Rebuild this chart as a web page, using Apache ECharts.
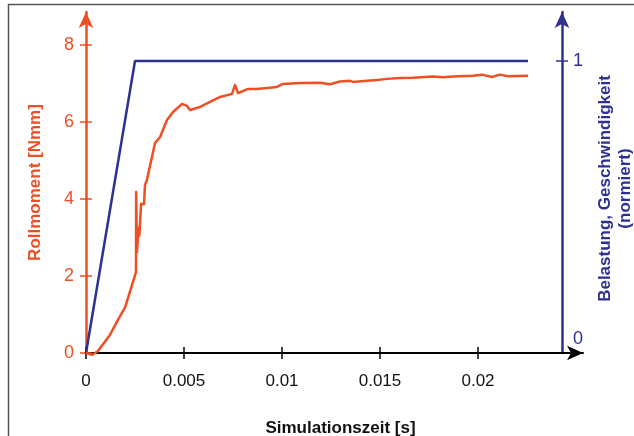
<!DOCTYPE html>
<html>
<head>
    <meta charset="utf-8">
    <title>Rollmoment</title>
    <script src="https://cdn.jsdelivr.net/npm/echarts@6/dist/echarts.min.js"></script>
    <style>
        html, body { margin: 0; padding: 0; background: #fff; }
        #main { width: 634px; height: 436px; }
    </style>
</head>
<body>
    <div id="main"></div>
    <script type="text/javascript">
        // Zeitachse / Ticks
        var xTicks = [0, 0.005, 0.01, 0.015, 0.02];
        var leftTicks = [0, 2, 4, 6, 8];
        var rightTicks = [0, 1];

        // Rollmoment [Nmm] ueber Simulationszeit [s]
        var rollTime = [0, 0.00031, 0.00061, 0.00122, 0.00163, 0.002, 0.00255, 0.00256, 0.0026, 0.00268, 0.00272,
            0.00281, 0.00296, 0.00301, 0.00311, 0.00352, 0.00378, 0.00413, 0.00444, 0.0049, 0.00515, 0.0053,
            0.00582, 0.00684, 0.00745, 0.0076, 0.00776, 0.00827, 0.00872, 0.00974, 0.01005, 0.01092, 0.01194,
            0.01245, 0.01296, 0.01347, 0.01362, 0.01434, 0.01485, 0.01536, 0.01602, 0.01668, 0.0177, 0.01821,
            0.01872, 0.01974, 0.0202, 0.02071, 0.02112, 0.02153, 0.02255];
        var rollValue = [0, -0.05, 0.05, 0.47, 0.86, 1.19, 2.1, 4.18, 2.62, 3.25, 3.05,
            3.87, 3.87, 4.36, 4.5, 5.45, 5.61, 6.05, 6.26, 6.47, 6.42, 6.31,
            6.39, 6.65, 6.73, 6.96, 6.75, 6.86, 6.86, 6.91, 6.99, 7.01, 7.02,
            6.98, 7.05, 7.07, 7.04, 7.07, 7.09, 7.12, 7.14, 7.15, 7.18, 7.16,
            7.18, 7.2, 7.23, 7.17, 7.23, 7.19, 7.2];

        // Belastung / Geschwindigkeit (normiert)
        var loadTime = [0, 0.0025, 0.02255];
        var loadValue = [0, 1, 1];

        var red = '#f04e23';
        var blue = '#2e3192';
        var font = 'Liberation Sans, Arial, sans-serif';

        function pairs(xs, ys) {
            return xs.map(function (x, i) { return [x, ys[i]]; });
        }

        var myChart = echarts.init(document.getElementById('main'));

        // grid 0: Zeitachse bis zur Pfeilspitze, grid 1: endet an der rechten Achse
        var xMax0 = 0.025357;
        var xMax1 = 0.024286;
        var yMaxL = 8.857;
        var yMaxR = 1.168;

        var option = {
            animation: false,
            backgroundColor: '#fff',
            grid: [
                { left: 86, right: 51, top: 12, bottom: 83, outerBoundsMode: 'none' },
                { left: 86, right: 72, top: 12, bottom: 83, outerBoundsMode: 'none' }
            ],
            graphic: [{
                type: 'rect',
                shape: { x: 8.5, y: 4.5, width: 800, height: 600 },
                style: { fill: 'none', stroke: '#555', lineWidth: 1.5 },
                silent: true
            }],
            xAxis: [{
                type: 'value',
                gridIndex: 0,
                position: 'bottom',
                min: 0,
                max: xMax0,
                splitLine: { show: false },
                axisLine: {
                    onZero: false,
                    lineStyle: { color: '#000', width: 2 },
                    symbol: ['none', 'arrow'],
                    symbolSize: [11, 16]
                },
                axisTick: { customValues: xTicks, length: 6, lineStyle: { color: '#000', width: 1.5 } },
                axisLabel: {
                    customValues: xTicks, margin: 20, color: '#111', fontSize: 17, fontFamily: font,
                    formatter: function (v) { return String(v); }
                },
                name: 'Simulationszeit [s]',
                nameLocation: 'middle',
                nameGap: 67,
                nameTextStyle: { color: '#111', fontSize: 17, fontWeight: 'bold', fontFamily: font, padding: [0, 0, 0, 12] }
            }, {
                type: 'value',
                gridIndex: 0,
                position: 'bottom',
                min: 0,
                max: xMax0,
                splitLine: { show: false },
                axisLine: { show: false, onZero: false },
                axisTick: { customValues: xTicks, inside: true, length: 6, lineStyle: { color: '#000', width: 1.5 } },
                axisLabel: { show: false }
            }, {
                type: 'value',
                gridIndex: 1,
                position: 'bottom',
                min: 0,
                max: xMax1,
                show: false
            }],
            yAxis: [{
                type: 'value',
                gridIndex: 0,
                position: 'left',
                min: 0,
                max: yMaxL,
                splitLine: { show: false },
                axisLine: {
                    onZero: false,
                    lineStyle: { color: red, width: 2.5 },
                    symbol: ['none', 'arrow'],
                    symbolSize: [11, 16]
                },
                axisTick: { customValues: leftTicks, length: 6, lineStyle: { color: red, width: 1.5 } },
                axisLabel: { customValues: leftTicks, margin: 12, color: red, fontSize: 18, fontFamily: font },
                name: 'Rollmoment [Nmm]',
                nameLocation: 'middle',
                nameGap: 42,
                nameRotate: 90,
                nameTextStyle: { color: red, fontSize: 17, fontWeight: 'bold', fontFamily: font }
            }, {
                type: 'value',
                gridIndex: 1,
                position: 'right',
                min: 0,
                max: yMaxR,
                splitLine: { show: false },
                axisLine: {
                    onZero: false,
                    lineStyle: { color: blue, width: 2.5 },
                    symbol: ['none', 'arrow'],
                    symbolSize: [11, 16]
                },
                axisTick: { customValues: [1], length: 6, lineStyle: { color: blue, width: 1.5 } },
                axisLabel: {
                    customValues: rightTicks, margin: 11, color: blue, fontSize: 18, fontFamily: font,
                    formatter: function (v) { return v === 0 ? '{z|0}' : '{o|' + v + '}'; },
                    rich: {
                        z: { color: blue, fontSize: 18, fontFamily: font, padding: [0, 0, 28, 0] },
                        o: { color: blue, fontSize: 18, fontFamily: font }
                    }
                },
                name: 'Belastung, Geschwindigkeit\n(normiert)',
                nameLocation: 'middle',
                nameGap: 33,
                nameRotate: 90,
                nameTextStyle: { color: blue, fontSize: 17, fontWeight: 'bold', fontFamily: font, lineHeight: 20, padding: [0, 12, 0, 0] }
            }, {
                type: 'value',
                gridIndex: 0,
                position: 'left',
                min: 0,
                max: yMaxL,
                splitLine: { show: false },
                axisLine: { show: false, onZero: false },
                axisTick: { customValues: leftTicks, inside: true, length: 6, lineStyle: { color: red, width: 1.5 } },
                axisLabel: { show: false }
            }, {
                type: 'value',
                gridIndex: 1,
                position: 'right',
                min: 0,
                max: yMaxR,
                splitLine: { show: false },
                axisLine: { show: false, onZero: false },
                axisTick: { customValues: [1], inside: true, length: 6, lineStyle: { color: blue, width: 1.5 } },
                axisLabel: { show: false }
            }],
            series: [{
                name: 'Belastung',
                type: 'line',
                xAxisIndex: 2,
                yAxisIndex: 1,
                data: pairs(loadTime, loadValue),
                showSymbol: false,
                clip: false,
                lineStyle: { color: blue, width: 2.5 },
                z: 3
            }, {
                name: 'Rollmoment',
                type: 'line',
                xAxisIndex: 0,
                yAxisIndex: 0,
                data: pairs(rollTime, rollValue),
                showSymbol: false,
                clip: false,
                lineStyle: { color: red, width: 2.5, join: 'round' },
                z: 4
            }]
        };

        myChart.setOption(option);
    </script>
</body>
</html>
